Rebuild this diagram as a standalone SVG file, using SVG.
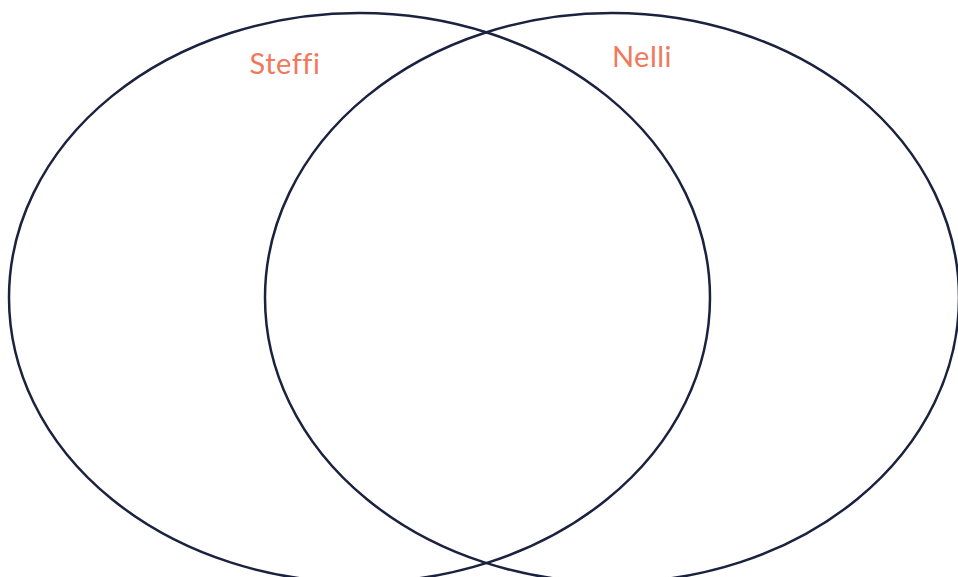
<svg xmlns="http://www.w3.org/2000/svg" width="958" height="577" viewBox="0 0 958 577">
<style>
.set{fill:none;stroke:#1b2240;stroke-width:2.5}
.lbl{font-family:Lato,"Open Sans",sans-serif;font-size:29px;fill:#f2785c;text-anchor:middle;font-variant-ligatures:none;letter-spacing:0.5px}
</style>
<rect width="958" height="577" fill="#ffffff"/>
<g id="steffi">
<ellipse class="set" cx="359.5" cy="297.7" rx="350.5" ry="284.7"/>
<text class="lbl" x="285" y="74">Steffi</text>
</g>
<g id="nelli">
<ellipse class="set" cx="612" cy="297.7" rx="347" ry="284.7"/>
<text class="lbl" x="642" y="67">Nelli</text>
</g>
<g id="connectors"></g>
</svg>
